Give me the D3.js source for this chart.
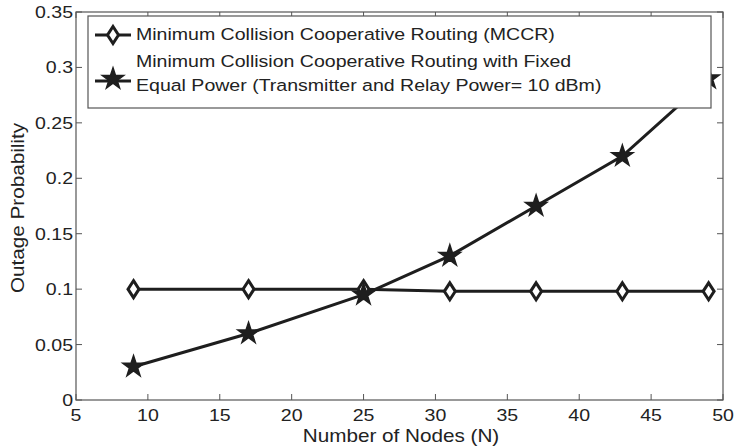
<!DOCTYPE html>
<html><head><meta charset="utf-8">
<script src="https://cdn.jsdelivr.net/npm/d3@7"></script>
<style>body{margin:0;background:#fff}svg{display:block}text{font-family:"Liberation Sans",Arial,sans-serif;fill:#222}</style>
</head><body><svg id="c" width="734" height="446"></svg>
<script>
const nodes = [9, 17, 25, 31, 37, 43, 49];
const mccr = [0.1, 0.1, 0.1, 0.098, 0.098, 0.098, 0.098];
const fixedPower = [0.03, 0.06, 0.095, 0.13, 0.175, 0.22, 0.29];
const xTicks = [5, 10, 15, 20, 25, 30, 35, 40, 45, 50];
const yTicks = [0, 0.05, 0.1, 0.15, 0.2, 0.25, 0.3, 0.35];
const legendLabels = [["Minimum Collision Cooperative Routing (MCCR)"],
  ["Minimum Collision Cooperative Routing with Fixed", "Equal Power (Transmitter and Relay Power= 10 dBm)"]];

const svg = d3.select("#c");
const L = 76, R = 723, T = 12, B = 400;
const x = d3.scaleLinear().domain([5, 50]).range([L, R]);
const y = d3.scaleLinear().domain([0, 0.35]).range([B, T]);
const axisColor = "#555";
const fs = 17, sx = 1.15;

function txt(parent, px, py, str, anchor, rot, size) {
  return parent.append("text")
    .attr("transform", `translate(${px},${py}) rotate(${rot || 0}) scale(${sx},1)`)
    .attr("text-anchor", anchor || "start").attr("font-size", size || fs).text(str);
}

const g = svg.append("g");
g.append("rect").attr("x", L).attr("y", T).attr("width", R - L).attr("height", B - T)
  .attr("fill", "none").attr("stroke", axisColor).attr("stroke-width", 1.2);
xTicks.forEach(t => {
  g.append("line").attr("x1", x(t)).attr("x2", x(t)).attr("y1", B).attr("y2", B - 6).attr("stroke", axisColor);
  g.append("line").attr("x1", x(t)).attr("x2", x(t)).attr("y1", T).attr("y2", T + 6).attr("stroke", axisColor);
  txt(g, x(t), B + 21, t, "middle");
});
yTicks.forEach(t => {
  g.append("line").attr("x1", L).attr("x2", L + 6).attr("y1", y(t)).attr("y2", y(t)).attr("stroke", axisColor);
  g.append("line").attr("x1", R).attr("x2", R - 6).attr("y1", y(t)).attr("y2", y(t)).attr("stroke", axisColor);
  txt(g, L - 3, y(t) + 6, t, "end");
});
txt(svg, 401, 442, "Number of Nodes (N)", "middle", 0, 18);
txt(svg, 24, 208, "Outage Probability", "middle", -90, 18);

const line = d3.line().x(d => x(d[0])).y(d => y(d[1]));
const col = "#1e1e1e";
const d1 = nodes.map((n, i) => [n, mccr[i]]);
const d2 = nodes.map((n, i) => [n, fixedPower[i]]);
svg.append("path").datum(d1).attr("d", line).attr("fill", "none").attr("stroke", col).attr("stroke-width", 3);
svg.append("path").datum(d2).attr("d", line).attr("fill", "none").attr("stroke", col).attr("stroke-width", 3);

const diamond = (cx, cy) => `M${cx},${cy - 8.5}L${cx + 5.5},${cy}L${cx},${cy + 8.5}L${cx - 5.5},${cy}Z`;
const star = d3.symbol().type(d3.symbolStar).size(140);
function drawDiamond(parent, cx, cy) {
  parent.append("path").attr("d", diamond(cx, cy)).attr("fill", "#fff").attr("stroke", col).attr("stroke-width", 3);
}
function drawStar(parent, cx, cy) {
  parent.append("path").attr("d", star()).attr("transform", `translate(${cx},${cy})`)
    .attr("fill", col).attr("stroke", col).attr("stroke-width", 1.5).attr("stroke-linejoin", "miter");
}
d1.forEach(d => drawDiamond(svg, x(d[0]), y(d[1])));
d2.forEach(d => drawStar(svg, x(d[0]), y(d[1])));

// legend
const lg = svg.append("g");
lg.append("rect").attr("x", 88).attr("y", 16).attr("width", 623).attr("height", 92)
  .attr("fill", "#fff").attr("stroke", "#555").attr("stroke-width", 1.2);
const rows = [35, 81];
rows.forEach((ry, i) => {
  lg.append("line").attr("x1", 95).attr("x2", 131).attr("y1", ry).attr("y2", ry).attr("stroke", col).attr("stroke-width", 3);
  if (i === 0) drawDiamond(lg, 113, ry); else drawStar(lg, 113, ry - 2);
  const lines = legendLabels[i];
  lines.forEach((t, k) => {
    const yy = lines.length === 1 ? 39.5 : 67 + k * 24;
    txt(lg, 136, yy, t, "start");
  });
});
</script></body></html>
